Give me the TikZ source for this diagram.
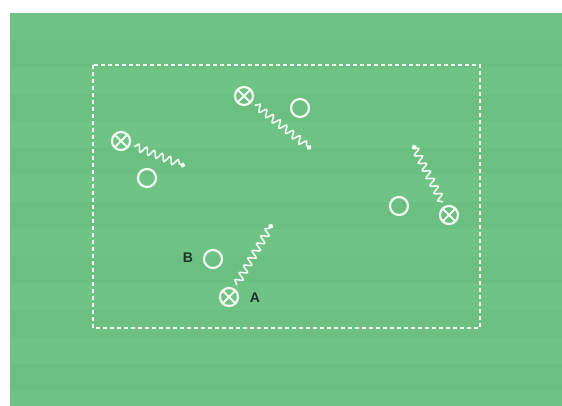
\documentclass[tikz,border=0pt]{standalone}
\usepackage{fontspec}
\setmainfont{Liberation Sans}
\usetikzlibrary{arrows.meta,decorations.pathmorphing}
\definecolor{pitch}{HTML}{6FC485}
\definecolor{pitchd}{HTML}{6BC081}
\definecolor{chalk}{HTML}{F2FAF1}
\definecolor{ink}{HTML}{1C3322}
\tikzset{
  plr/.style={circle,draw=chalk,line width=2.2pt,minimum size=18pt,inner sep=0pt,outer sep=0pt},
  opp/.style={plr,outer sep=5pt,path picture={\draw[chalk,line width=1.8pt]
      (path picture bounding box.north west)--(path picture bounding box.south east)
      (path picture bounding box.north east)--(path picture bounding box.south west);}},
  drib/.style={chalk,line width=1.6pt,-{Circle[length=5pt]},decorate,
      decoration={snake,segment length=8.5pt,amplitude=3.5pt,pre length=1pt,post length=3pt}},
  lbl/.style={font=\fontsize{14}{16}\selectfont\bfseries,text=ink,inner sep=1pt},
  zone/.style={chalk,line width=1.5pt,dash pattern=on 4pt off 3pt},
}
\begin{document}
\begin{tikzpicture}[x=1pt,y=-1pt]
\useasboundingbox (0,0) rectangle (562,406);
\fill[white] (0,0) rectangle (562,406);
\fill[pitch] (10,13) rectangle (562,406);
\foreach \y in {40,94,...,390} \fill[pitchd] (10,\y) rectangle (562,\y+27);
\draw[zone] (93,65) rectangle (480,328);
% players
\node[opp] (x1) at (121,141) {};
\node[plr] (o1) at (147,178) {};
\node[opp] (x2) at (244,96) {};
\node[plr] (o2) at (300,108) {};
\node[opp] (x3) at (449,215) {};
\node[plr] (o3) at (399,206) {};
\node[opp] (xa) at (229,297) {};
\node[plr] (ob) at (213,259) {};
\node[lbl] (la) at (255,298) {A};
\node[lbl] (lb) at (188,258) {B};
% dribbles
\coordinate (e1) at (185,166);
\coordinate (e2) at (311,149);
\coordinate (e3) at (413,145);
\coordinate (ea) at (272,224);
\draw[drib] (x1) -- (e1);
\draw[drib] (x2) -- (e2);
\draw[drib] (x3) -- (e3);
\draw[drib] (xa) -- (ea);
\end{tikzpicture}
\end{document}
